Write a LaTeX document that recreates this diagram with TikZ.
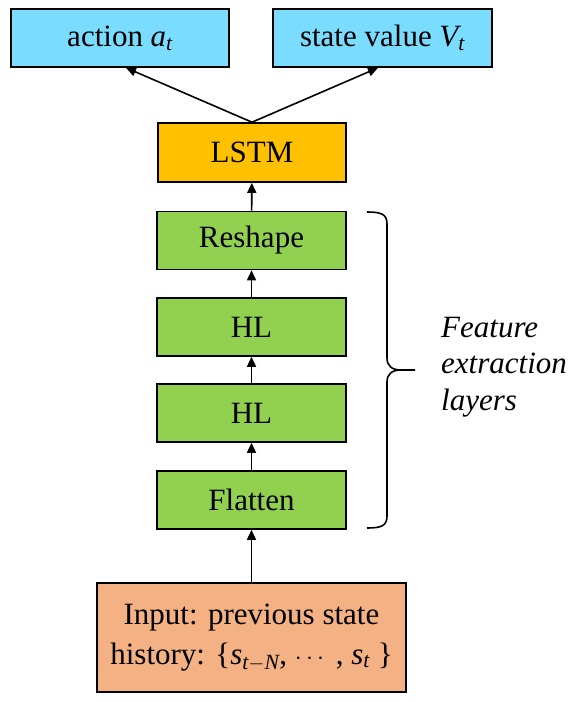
\documentclass[tikz,border=0pt]{standalone}
\usepackage{amsmath}
\usepackage{fontspec}
\setmainfont{Liberation Serif}
\usetikzlibrary{arrows.meta}
\definecolor{outbox}{HTML}{7ADCFF}
\definecolor{lstmbox}{HTML}{FFC000}
\definecolor{featbox}{HTML}{92D050}
\definecolor{inbox}{HTML}{F4B183}
\begin{document}
\begin{tikzpicture}[x=1pt,y=-1pt,
  box/.style={draw=black, line width=1.6pt, minimum width=189pt, minimum height=58pt,
    inner sep=0pt, font=\fontsize{31}{40}\selectfont},
  arr/.style={line width=1.6pt, -{Triangle[length=10pt,width=9pt]}},
  bracepath/.style={line width=1.6pt},
]
\useasboundingbox (0,0) rectangle (576,702);

\node[box, fill=outbox, minimum width=218pt] (action) at (120,38) {action $\textit{a}_{\textit{t}}$};
\node[box, fill=outbox, minimum width=219pt] (value) at (382.5,38) {state value $\textit{V}_{\textit{t}}$};
\node[box, fill=lstmbox, minimum width=188pt, minimum height=59pt] (lstm) at (252,152.5) {LSTM};
\node[box, fill=featbox] (reshape) at (251.5,240.5) {Reshape};
\node[box, fill=featbox] (hla) at (251.5,327) {HL};
\node[box, fill=featbox] (hlb) at (251.5,413) {HL};
\node[box, fill=featbox] (flatten) at (251.5,500) {Flatten};
\node[box, fill=inbox, minimum width=309pt, minimum height=109pt, align=center] (input) at (251.5,637.5)
  {Input: previous state\\history: \{$\textit{s}_{\textit{t}-\textit{N}}$, $\cdots$ , $\textit{s}_{\textit{t}}$ \}};

\draw[arr] (lstm.north) -- ([xshift=6pt]action.south);
\draw[arr] (lstm.north) -- ([xshift=-4.5pt]value.south);
\draw[arr] (reshape) -- (lstm);
\draw[arr] (hla) -- (reshape);
\draw[arr] (hlb) -- (hla);
\draw[arr] (flatten) -- (hlb);
\draw[arr] (input) -- (flatten);

\coordinate (btop) at (367,212);
\coordinate (bbot) at (367,528);
\coordinate (btip) at (415,370);
\draw[bracepath] (btop) .. controls (381,212) and (387,214) .. (387,224) -- (387,358)
  .. controls (387,366) and (392,370) .. (401,370) -- (btip);
\draw[bracepath] (bbot) .. controls (381,528) and (387,526) .. (387,516) -- (387,382)
  .. controls (387,374) and (392,370) .. (401,370);

\node[anchor=west, inner sep=0pt, align=left, font=\fontsize{31}{36.5}\selectfont\itshape] (feat) at (441,367)
  {Feature\\extraction\\layers};
\end{tikzpicture}
\end{document}
